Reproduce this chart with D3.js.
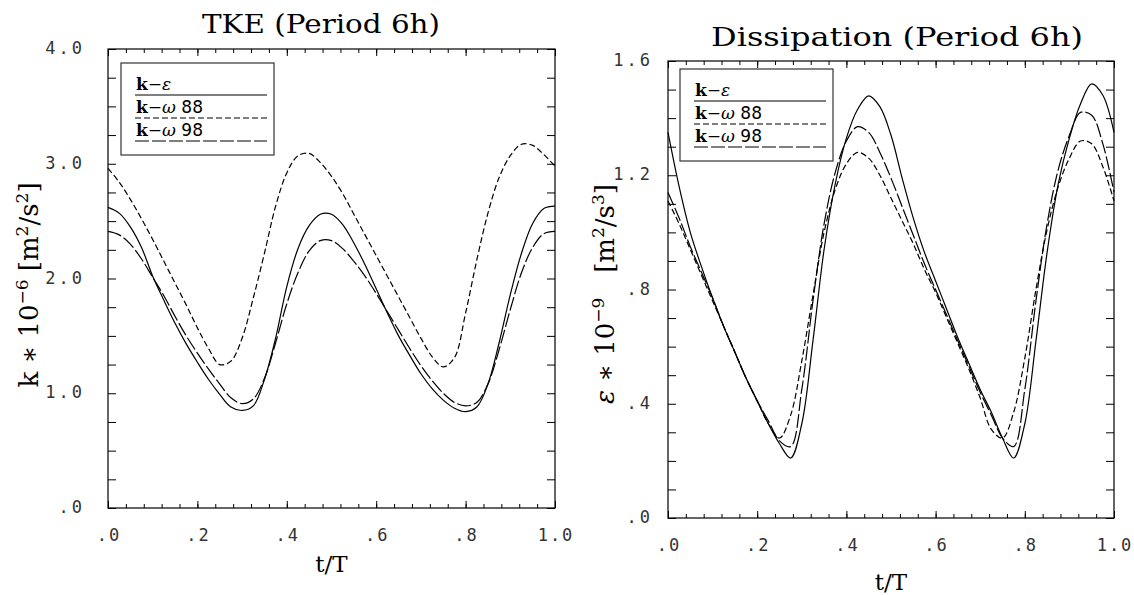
<!DOCTYPE html>
<html>
<head>
<meta charset="utf-8">
<script src="https://cdn.jsdelivr.net/npm/d3@7"></script>
<style>
  body { margin: 0; background: #fff; }
  svg { display: block; }
  .tick line { stroke: #000; stroke-width: 1; }
  .domain { display: none; }
</style>
</head>
<body>
<div id="chart"></div>
<script>
// time axis, t/T
var tGrid = [0, .025, .05, .075, .1, .125, .15, .175, .2, .225, .25, .275, .3, .325, .35, .375, .4, .425, .45, .475,
             .5, .525, .55, .575, .6, .625, .65, .675, .7, .725, .75, .775, .8, .825, .85, .875, .9, .925, .95, .975, 1];

// TKE, k * 10^-6
var tkeKEps  = [2.62, 2.57, 2.45, 2.27, 2.02, 1.81, 1.61, 1.43, 1.27, 1.12, 0.99, 0.88, 0.85, 0.89, 1.12, 1.48, 1.93, 2.26, 2.46, 2.56,
                2.56, 2.47, 2.31, 2.12, 1.91, 1.70, 1.50, 1.33, 1.17, 1.04, 0.94, 0.87, 0.84, 0.88, 1.08, 1.44, 1.86, 2.22, 2.48, 2.61, 2.63];
var tkeKOm88 = [2.96, 2.84, 2.69, 2.52, 2.34, 2.15, 1.96, 1.77, 1.57, 1.39, 1.25, 1.28, 1.48, 1.83, 2.22, 2.63, 2.92, 3.07, 3.09, 3.01,
                2.89, 2.74, 2.56, 2.38, 2.20, 2.02, 1.84, 1.66, 1.48, 1.32, 1.23, 1.31, 1.70, 2.16, 2.57, 2.88, 3.07, 3.17, 3.16, 3.08, 2.98];
var tkeKOm98 = [2.41, 2.38, 2.30, 2.17, 2.01, 1.85, 1.67, 1.50, 1.35, 1.21, 1.08, 0.96, 0.91, 0.95, 1.13, 1.44, 1.78, 2.05, 2.24, 2.33,
                2.33, 2.26, 2.15, 2.02, 1.87, 1.71, 1.55, 1.39, 1.24, 1.11, 1.00, 0.92, 0.89, 0.92, 1.08, 1.38, 1.73, 2.05, 2.27, 2.39, 2.41];

// dissipation, eps * 10^-9
var dissKEps  = [1.35, 1.16, 1.00, 0.88, 0.77, 0.67, 0.58, 0.49, 0.41, 0.33, 0.26, 0.21, 0.33, 0.62, 0.94, 1.17, 1.33, 1.43, 1.478, 1.44,
                 1.34, 1.19, 1.05, 0.93, 0.83, 0.73, 0.63, 0.54, 0.45, 0.37, 0.28, 0.21, 0.33, 0.62, 0.93, 1.17, 1.33, 1.45, 1.52, 1.48, 1.35];
var dissKOm88 = [1.11, 1.03, 0.94, 0.85, 0.76, 0.67, 0.58, 0.49, 0.41, 0.33, 0.28, 0.36, 0.55, 0.78, 1.00, 1.15, 1.24, 1.28, 1.26, 1.20,
                 1.12, 1.04, 0.96, 0.87, 0.79, 0.70, 0.61, 0.52, 0.42, 0.31, 0.28, 0.37, 0.56, 0.80, 1.01, 1.16, 1.26, 1.32, 1.31, 1.23, 1.11];
var dissKOm98 = [1.14, 1.05, 0.95, 0.86, 0.77, 0.67, 0.58, 0.49, 0.41, 0.34, 0.27, 0.25, 0.45, 0.76, 1.03, 1.21, 1.32, 1.37, 1.35, 1.28,
                 1.19, 1.09, 0.99, 0.89, 0.80, 0.71, 0.62, 0.53, 0.44, 0.36, 0.28, 0.25, 0.45, 0.76, 1.03, 1.22, 1.34, 1.42, 1.41, 1.31, 1.14];

var seriesNames = ["k−ε", "k−ω 88", "k−ω 98"];
var dashes = [null, "6,3", "14,3"];

var xTickVals = [0, .2, .4, .6, .8, 1];
var xTickLabels = [".0", ".2", ".4", ".6", ".8", "1.0"];
var tkeTickVals = [0, 1, 2, 3, 4];
var tkeTickLabels = [".0", "1.0", "2.0", "3.0", "4.0"];
var dissTickVals = [0, .4, .8, 1.2, 1.6];
var dissTickLabels = [".0", ".4", ".8", "1.2", "1.6"];

var W = 1134, H = 595;

var svg = d3.select("#chart")
    .append("svg")
    .attr("width", W)
    .attr("height", H);

function drawPanel(p) {
  var x = d3.scaleLinear().domain([0, 1]).range([p.left, p.right]);
  var y = d3.scaleLinear().domain([0, p.ymax]).range([p.bottom, p.top]);
  var g = svg.append("g");

  var xMinor = d3.range(26).map(function(i) { return i * 0.04; });
  var yMinor = d3.range(Math.round(p.ymax / p.ystep) + 1).map(function(i) { return i * p.ystep; });

  // inward ticks on all four sides
  g.append("g").attr("transform", "translate(0," + p.bottom + ")")
    .call(d3.axisBottom(x).tickValues(xMinor).tickSize(-4).tickFormat(""));
  g.append("g").attr("transform", "translate(0," + p.bottom + ")")
    .call(d3.axisBottom(x).tickValues(xTickVals).tickSize(-7).tickFormat(""));
  g.append("g").attr("transform", "translate(0," + p.top + ")")
    .call(d3.axisTop(x).tickValues(xMinor).tickSize(-4).tickFormat(""));
  g.append("g").attr("transform", "translate(0," + p.top + ")")
    .call(d3.axisTop(x).tickValues(xTickVals).tickSize(-7).tickFormat(""));
  g.append("g").attr("transform", "translate(" + p.left + ",0)")
    .call(d3.axisLeft(y).tickValues(yMinor).tickSize(-8).tickFormat(""));
  g.append("g").attr("transform", "translate(" + p.right + ",0)")
    .call(d3.axisRight(y).tickValues(yMinor).tickSize(-8).tickFormat(""));

  g.append("rect")
    .attr("x", p.left).attr("y", p.top)
    .attr("width", p.right - p.left).attr("height", p.bottom - p.top)
    .attr("fill", "none").attr("stroke", "#000").attr("stroke-width", 1.2);

  // tick labels
  g.selectAll(".xlab").data(xTickVals).enter().append("text")
    .attr("x", function(d) { return x(d) + 1; })
    .attr("y", p.bottom + 33)
    .attr("text-anchor", "middle")
    .attr("font-family", "DejaVu Sans Mono")
    .attr("font-size", 17)
    .attr("letter-spacing", 2)
    .attr("fill", "#333")
    .text(function(d, i) { return xTickLabels[i]; });

  g.selectAll(".ylab").data(p.yTickVals).enter().append("text")
    .attr("x", p.left - p.yTickOff)
    .attr("y", function(d) { return y(d) + 5; })
    .attr("text-anchor", "end")
    .attr("font-family", "DejaVu Sans Mono")
    .attr("font-size", 17)
    .attr("letter-spacing", 3)
    .attr("fill", "#333")
    .text(function(d, i) { return p.yTickLabels[i]; });

  // curves
  var line = d3.line()
    .x(function(d, i) { return x(tGrid[i]); })
    .y(function(d) { return y(d); })
    .curve(d3.curveCatmullRom);

  p.series.forEach(function(s, i) {
    g.append("path")
      .datum(s)
      .attr("d", line)
      .attr("fill", "none")
      .attr("stroke", "#000")
      .attr("stroke-width", 1.2)
      .attr("stroke-dasharray", dashes[i]);
  });

  // legend
  var lg = g.append("g");
  lg.append("rect")
    .attr("x", p.legX).attr("y", p.legY)
    .attr("width", 153).attr("height", 92)
    .attr("fill", "#fff").attr("stroke", "#333").attr("stroke-width", 1.2);
  seriesNames.forEach(function(name, i) {
    var by = p.legY + 27 + i * 23;
    var t = lg.append("text")
      .attr("x", p.legX + 15).attr("y", by)
      .attr("font-family", "DejaVu Serif")
      .attr("font-size", 17);
    var parts = name.split("−");
    t.append("tspan").attr("font-weight", "bold").text(parts[0]);
    t.append("tspan").text("−");
    var rest = parts[1];
    t.append("tspan").attr("font-style", "italic").text(rest.charAt(0));
    if (rest.length > 1) {
      t.append("tspan").attr("font-family", "DejaVu Sans").text(" " + rest.slice(2));
    }
    lg.append("line")
      .attr("x1", p.legX + 14).attr("x2", p.legX + 146)
      .attr("y1", by + 5).attr("y2", by + 5)
      .attr("stroke", "#000").attr("stroke-width", 1.2)
      .attr("stroke-dasharray", dashes[i]);
  });

  // titles
  g.append("text")
    .attr("x", p.titleX)
    .attr("y", p.titleY)
    .attr("text-anchor", "middle")
    .attr("font-family", "DejaVu Serif")
    .attr("font-size", 26)
    .attr("textLength", p.titleLen)
    .attr("lengthAdjust", "spacingAndGlyphs")
    .text(p.title);

  g.append("text")
    .attr("x", (p.left + p.right) / 2)
    .attr("y", p.bottom + p.xlabY)
    .attr("text-anchor", "middle")
    .attr("font-family", "DejaVu Serif")
    .attr("font-size", 23)
    .text("t/T");

  // rotated y label
  var yl = g.append("text")
    .attr("transform", "translate(" + p.ylabX + "," + p.ylabY + ") rotate(-90)")
    .attr("text-anchor", "middle")
    .attr("font-family", "DejaVu Serif")
    .attr("font-size", 26);
  p.ylab.forEach(function(part) {
    var ts = yl.append("tspan").text(part[0]);
    if (part[1] === "sup") ts.attr("baseline-shift", "super").attr("font-size", 17);
    if (part[1] === "it") ts.attr("font-style", "italic");
  });
}

drawPanel({
  left: 108, right: 555, top: 49, bottom: 508,
  ymax: 4, ystep: 0.25, yTickOff: 23,
  yTickVals: tkeTickVals, yTickLabels: tkeTickLabels,
  series: [tkeKEps, tkeKOm88, tkeKOm98],
  legX: 121, legY: 63,
  title: "TKE (Period 6h)", titleX: 321, titleY: 33, titleLen: 238,
  xlabY: 64,
  ylabX: 38, ylabY: 285,
  ylab: [["k ∗ 10", ""], ["−6", "sup"], ["\u00a0[m", ""], ["2", "sup"], ["/s", ""], ["2", "sup"], ["]", ""]]
});

drawPanel({
  left: 668, right: 1114, top: 61, bottom: 518,
  ymax: 1.6, ystep: 0.1, yTickOff: 15,
  yTickVals: dissTickVals, yTickLabels: dissTickLabels,
  series: [dissKEps, dissKOm88, dissKOm98],
  legX: 680, legY: 69,
  title: "Dissipation (Period 6h)", titleX: 897, titleY: 46, titleLen: 372,
  xlabY: 72,
  ylabX: 614, ylabY: 294,
  ylab: [["ε", "it"], [" ∗ 10", ""], ["−9", "sup"], ["\u00a0\u00a0\u00a0[m", ""], ["2", "sup"], ["/s", ""], ["3", "sup"], ["]", ""]]
});
</script>
</body>
</html>
